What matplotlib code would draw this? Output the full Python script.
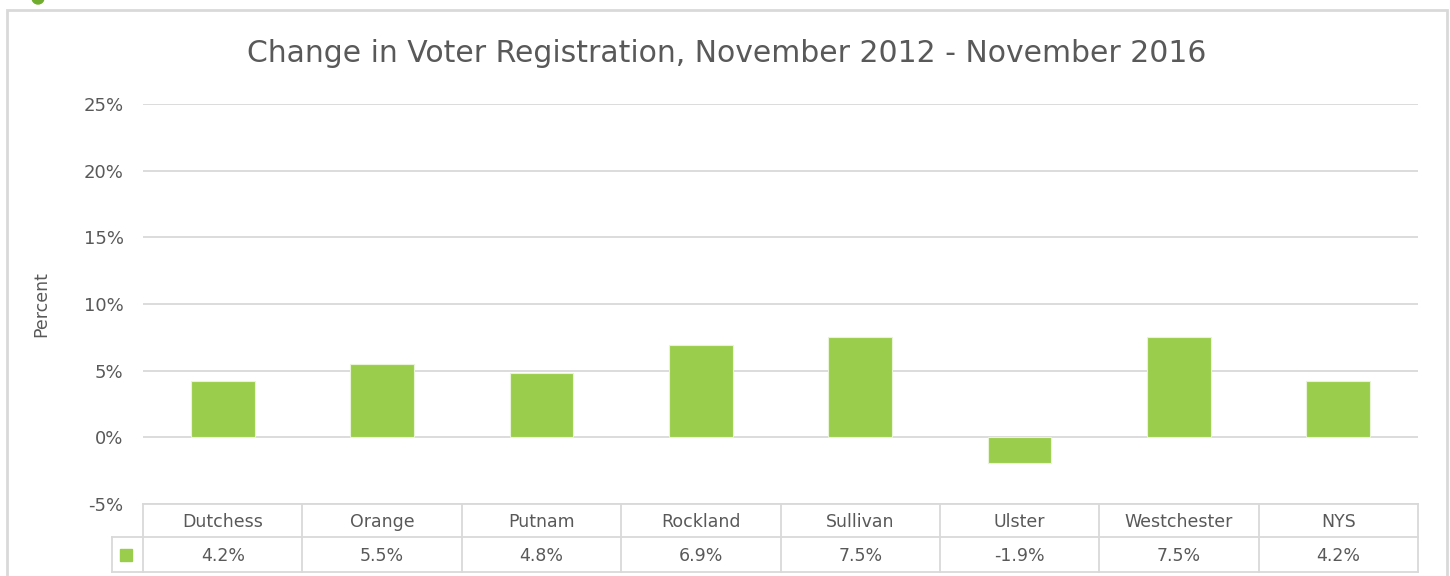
import matplotlib.pyplot as plt
from matplotlib.patches import Rectangle, Ellipse
from matplotlib.lines import Line2D

counties = ["Dutchess", "Orange", "Putnam", "Rockland", "Sullivan", "Ulster", "Westchester", "NYS"]
change = [4.2, 5.5, 4.8, 6.9, 7.5, -1.9, 7.5, 4.2]
yticks = [-5, 0, 5, 10, 15, 20, 25]

W, H = 1450, 576
bar_color = "#9BCD4C"
grid_color = "#D9D9D9"
text_color = "#595959"
plt.rcParams["font.family"] = ["DejaVu Sans"]

fig = plt.figure(figsize=(W / 100, H / 100), dpi=100)

# plot area in pixel coords
x0, x1 = 143, 1418
ytop, ybot = 104, 504
ax = fig.add_axes([x0 / W, 1 - ybot / H, (x1 - x0) / W, (ybot - ytop) / H])

n = len(counties)
ax.bar(range(n), change, width=0.4, color=bar_color, edgecolor="#E8F3D8", linewidth=0.8, zorder=3)
ax.set_xlim(-0.5, n - 0.5)
ax.set_ylim(-5, 25)
ax.set_yticks(yticks)
ax.set_yticklabels([f"{t}%" for t in yticks], fontsize=13, color=text_color)
ax.tick_params(axis="y", length=0, pad=14)
ax.set_xticks([])
for s in ax.spines.values():
    s.set_visible(False)
for t in yticks:
    ax.axhline(t, color=grid_color, lw=1.3, zorder=1)
ax.set_ylabel("Percent", fontsize=12.5, color=text_color, labelpad=24)

# data table below the axes (figure pixel coords)
def px(x, y):
    return x / W, 1 - y / H

row1, row2, row3 = 504, 537, 572
keyx = 112
cw = (x1 - x0) / n
lines = [((x0, row1), (x1, row1)), ((keyx, row2), (x1, row2)), ((keyx, row3), (x1, row3)),
         ((keyx, row2), (keyx, row3))]
for k in range(n + 1):
    lines.append(((x0 + k * cw, row1), (x0 + k * cw, row3)))
for a, b in lines:
    (xa, ya), (xb, yb) = px(*a), px(*b)
    fig.add_artist(Line2D([xa, xb], [ya, yb], color=grid_color, lw=1.3))

for k, (name, v) in enumerate(zip(counties, change)):
    cx = x0 + (k + 0.5) * cw
    fig.text(*px(cx, 527), name, ha="center", va="baseline", fontsize=12.5, color=text_color)
    fig.text(*px(cx, 561), f"{v:.1f}%", ha="center", va="baseline", fontsize=12.5, color=text_color)

kx, ky = px(120, 561)
fig.add_artist(Rectangle((kx, ky), 12 / W, 12 / H, color=bar_color, transform=fig.transFigure))

# chart frame
fx, fy = px(7, 640)
fig.add_artist(Rectangle((fx, fy), (1447 - 7) / W, (640 - 10) / H, fill=False,
                         edgecolor="#D9D9D9", lw=2, transform=fig.transFigure))
cx, cy = px(38, -2)
fig.add_artist(Ellipse((cx, cy), 12 / W, 12 / H, color="#70AD2F", transform=fig.transFigure))

fig.text(*px(727, 62), "Change in Voter Registration, November 2012 - November 2016",
         ha="center", va="baseline", fontsize=21.5, color=text_color)

fig.savefig("out.png", dpi=100)
